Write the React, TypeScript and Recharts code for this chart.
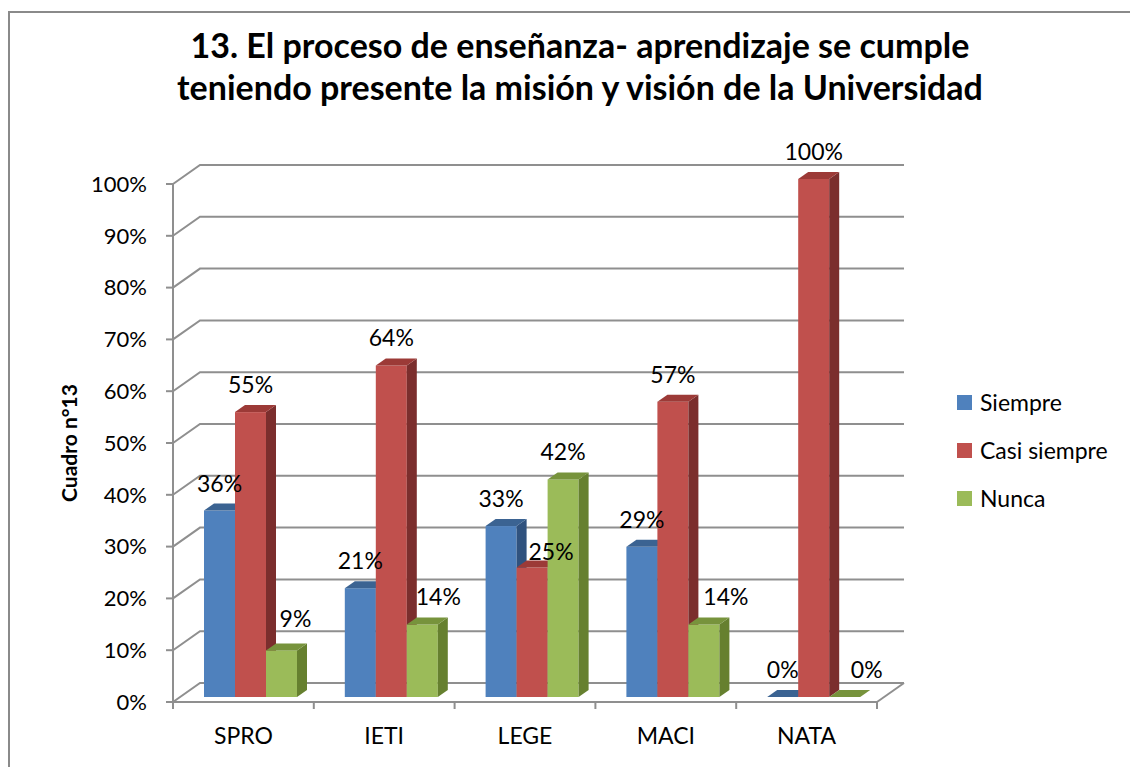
import React from 'react'
import { Bar, BarChart, CartesianGrid, LabelList, Legend, XAxis, YAxis } from 'recharts'

// ── data ──
const categories = ['SPRO', 'IETI', 'LEGE', 'MACI', 'NATA']
const seriesNames = ['Siempre', 'Casi siempre', 'Nunca']
const siempre = [36, 21, 33, 29, 0]
const casiSiempre = [55, 64, 25, 57, 100]
const nunca = [9, 14, 42, 14, 0]
const yTicks = [0, 10, 20, 30, 40, 50, 60, 70, 80, 90, 100]

const chartData = categories.map((cat, i) => ({
  cat,
  siempre: siempre[i],
  casi: casiSiempre[i],
  nunca: nunca[i],
}))

// ── 3D look ──
const FONT = 'Lato, "Open Sans", sans-serif'
const GRID = '#8f8f8f'
const WALL_DX = 27 // front axis -> back wall
const WALL_DY = -19
const BAR_DX = 7 // bars sit a bit behind the front edge
const BAR_DY = -5
const DEPTH_DX = 10
const DEPTH_DY = -7

const palette = {
  siempre: { front: '#4F81BD', top: '#3B6392', side: '#30527E' },
  casi: { front: '#C0504D', top: '#9C3A37', side: '#7B2E2D' },
  nunca: { front: '#9BBB59', top: '#77933C', side: '#66802F' },
}

// label nudges where Excel moved a label out of the way
const labelNudge: Record<string, Record<string, [number, number]>> = {
  casi: { LEGE: [19, 11] },
  nunca: { SPRO: [14, -4], IETI: [16, 0], MACI: [22, 0], NATA: [22, 0] },
}

function Bar3D(props: any) {
  const { x, y, width, height, colors } = props
  const fx = x + BAR_DX
  const fy = y + BAR_DY
  const h = Math.max(0, height)
  const top = `${fx},${fy} ${fx + DEPTH_DX},${fy + DEPTH_DY} ${fx + width + DEPTH_DX},${fy + DEPTH_DY} ${fx + width},${fy}`
  const side = `${fx + width},${fy} ${fx + width + DEPTH_DX},${fy + DEPTH_DY} ${fx + width + DEPTH_DX},${fy + h + DEPTH_DY} ${fx + width},${fy + h}`
  return (
    <g>
      {h > 0 && <rect x={fx} y={fy} width={width} height={h} fill={colors.front} />}
      {h > 0 && <polygon points={side} fill={colors.side} />}
      <polygon points={top} fill={colors.top} />
    </g>
  )
}

function makeLabel(key: string) {
  return (p: any) => {
    const { x, y, width, value, index } = p
    const [nx, ny] = labelNudge[key]?.[categories[index]] ?? [0, 0]
    return (
      <text
        x={x + width / 2 + BAR_DX + nx}
        y={y + BAR_DY - 28 + ny}
        textAnchor="middle"
        dominantBaseline="central"
        fontSize={23}
        fontFamily={FONT}
        fill="#000"
      >
        {value}%
      </text>
    )
  }
}

// back-wall gridline: diagonal from the front axis, then across the back wall
function GridLine(p: any) {
  const { x1, x2, y1, index } = p
  const pts = `${x1},${y1} ${x1 + WALL_DX},${y1 + WALL_DY} ${x2 + WALL_DX},${y1 + WALL_DY}`
  return (
    <g key={`gl-${index}`}>
      <polyline points={pts} fill="none" stroke={GRID} strokeWidth={2} />
      {index === 0 && (
        <line x1={x2} y1={y1} x2={x2 + WALL_DX} y2={y1 + WALL_DY} stroke={GRID} strokeWidth={2} />
      )}
    </g>
  )
}

function CategoryTick(p: any) {
  const { x, y, payload, index, width, visibleTicksCount } = p
  const band = width / visibleTicksCount
  const left = x - band / 2
  return (
    <g>
      <line x1={left} y1={y} x2={left} y2={y + 7} stroke={GRID} strokeWidth={2} />
      {index === visibleTicksCount - 1 && (
        <line x1={left + band} y1={y} x2={left + band} y2={y + 7} stroke={GRID} strokeWidth={2} />
      )}
      <text x={x} y={y + 42} textAnchor="middle" fontSize={23} fontFamily={FONT} fill="#000">
        {payload.value}
      </text>
    </g>
  )
}

function LegendBox(p: any) {
  const items = [...(p.payload ?? [])].sort(
    (a: any, b: any) => seriesNames.indexOf(a.value) - seriesNames.indexOf(b.value),
  )
  return (
    <div style={{ fontFamily: FONT, fontSize: 23, color: '#000' }}>
      {items.map((it: any) => (
        <div key={it.value} style={{ height: 48, display: 'flex', alignItems: 'center' }}>
          <span style={{ width: 15, height: 15, background: it.color, marginRight: 8, display: 'inline-block' }} />
          <span>{it.value}</span>
        </div>
      ))}
    </div>
  )
}

export default function App() {
  return (
    <div style={{ position: 'absolute', left: 0, top: 0, width: 1130, height: 767, overflow: 'hidden', background: '#fff' }}>
      <div
        style={{
          position: 'absolute',
          left: 8,
          top: 11,
          width: 1200,
          height: 800,
          borderLeft: '2px solid #8a8a8a',
          borderTop: '2px solid #8a8a8a',
        }}
      />
      <div
        style={{
          position: 'absolute',
          left: 80,
          top: 24,
          width: 1000,
          textAlign: 'center',
          fontFamily: FONT,
          fontWeight: 700,
          fontSize: 34,
          lineHeight: '42px',
          color: '#000',
        }}
      >
        13. El proceso de enseñanza- aprendizaje se cumple
        <br />
        teniendo presente la misión y visión de la Universidad
      </div>
      <div style={{ position: 'absolute', left: 0, top: 0 }}>
        <BarChart
          width={1130}
          height={767}
          data={chartData}
          margin={{ top: 184, right: 253, bottom: 0, left: 0 }}
          barGap={0}
          barSize={31}
        >
          <CartesianGrid horizontal={GridLine} vertical={false} />
          <XAxis
            dataKey="cat"
            height={65}
            axisLine={{ stroke: GRID, strokeWidth: 2 }}
            tickLine={false}
            tickSize={0}
            tickMargin={0}
            tick={CategoryTick}
            interval={0}
          />
          <YAxis
            domain={[0, 100]}
            ticks={yTicks}
            width={173}
            tickFormatter={(v: number) => `${v}%`}
            axisLine={{ stroke: GRID, strokeWidth: 2 }}
            tickLine={{ stroke: GRID, strokeWidth: 2 }}
            tickSize={7}
            tickMargin={19}
            tick={{ fill: '#000', fontSize: 22, fontFamily: FONT }}
            label={{
              content: (lp: any) => {
                const vb = lp.viewBox
                const cx = 68
                const cy = vb.y + vb.height / 2
                return (
                  <text
                    x={cx}
                    y={cy}
                    transform={`rotate(-90 ${cx} ${cy})`}
                    textAnchor="middle"
                    dominantBaseline="central"
                    fontSize={21}
                    fontWeight={700}
                    fontFamily={FONT}
                    fill="#000"
                  >
                    Cuadro n°13
                  </text>
                )
              },
            }}
          />
          <Legend
            layout="vertical"
            align="center"
            verticalAlign="middle"
            wrapperStyle={{ left: 957, top: 378, width: 172 }}
            content={LegendBox}
          />
          <Bar
            dataKey="siempre"
            name={seriesNames[0]}
            fill={palette.siempre.front}
            isAnimationActive={false}
            shape={(p: any) => <Bar3D {...p} colors={palette.siempre} />}
          >
            <LabelList dataKey="siempre" content={makeLabel('siempre')} />
          </Bar>
          <Bar
            dataKey="casi"
            name={seriesNames[1]}
            fill={palette.casi.front}
            isAnimationActive={false}
            shape={(p: any) => <Bar3D {...p} colors={palette.casi} />}
          >
            <LabelList dataKey="casi" content={makeLabel('casi')} />
          </Bar>
          <Bar
            dataKey="nunca"
            name={seriesNames[2]}
            fill={palette.nunca.front}
            isAnimationActive={false}
            shape={(p: any) => <Bar3D {...p} colors={palette.nunca} />}
          >
            <LabelList dataKey="nunca" content={makeLabel('nunca')} />
          </Bar>
        </BarChart>
      </div>
    </div>
  )
}
